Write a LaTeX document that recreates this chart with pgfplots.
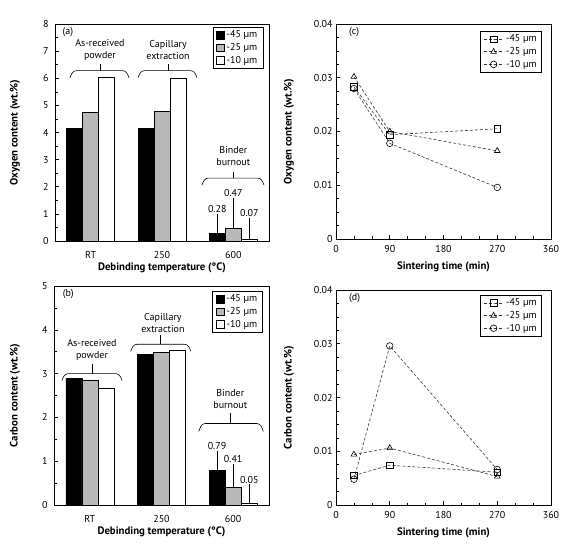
\documentclass[border=0pt]{standalone}
\usepackage{fontspec}
\setmainfont{PT Sans}[BoldFont={PT Sans Bold}]
\usepackage{pgfplots}
\pgfplotsset{compat=1.18}
\definecolor{bargray}{RGB}{185,185,185}
\definecolor{linegray}{RGB}{55,55,55}
\newcommand{\nf}{\fontsize{10}{11.5}\selectfont}
\newcommand{\lbf}{\fontsize{10.8}{12}\selectfont\bfseries}
\pgfplotsset{
  base/.style={scale only axis, anchor=south west, clip=false,
    axis line style={line width=0.7pt},
    tick style={black, line width=0.6pt},
    major tick length=4pt, minor tick length=2.5pt, tick align=inside,
    xtick pos=bottom, ytick pos=left,
    tick label style={font=\nf},
    /pgf/number format/assume math mode=true,
    legend cell align=left,
  },
  ylab/.style={every axis y label/.style={at={([xshift=#1]rel axis cs:0,0.5)}, rotate=90, anchor=center, font=\lbf}},
  xlab/.style={every axis x label/.style={at={([yshift=#1]rel axis cs:0.5,0)}, anchor=center, font=\lbf}},
  barax/.style={base, xmin=-0.5, xmax=2.5, xtick={0,1,2}, xticklabels={RT,250,600},
    major x tick style={draw=none}, minor y tick num=1,
    ybar=0pt, bar width=16pt,
    yticklabel style={xshift=-3pt}, xticklabel style={yshift=-3pt},
    legend image code/.code={\draw[##1] (0pt,-3.8pt) rectangle (7.6pt,3.8pt);},
    legend style={draw=black, line width=0.5pt, font=\nf, row sep=0pt, inner xsep=3.5pt, inner ysep=1.5pt},
    xlabel={Debinding temperature (°C)}, xlab=-27pt, ylab=-40pt},
  lineax/.style={base, xmin=0, xmax=360, xtick={0,90,180,270,360}, minor x tick num=2,
    ymin=0, ymax=0.04, ytick={0,0.01,0.02,0.03,0.04}, yticklabels={0,0.01,0.02,0.03,0.04},
    scaled y ticks=false, minor y tick num=3, xticklabel style={yshift=-3pt},
    legend image code/.code={\draw[mark repeat=2,mark phase=2,##1] plot coordinates {(0pt,0pt) (10pt,0pt) (20pt,0pt)};},
    legend style={draw=black, line width=0.5pt, font=\nf, row sep=0pt, inner xsep=3pt, inner ysep=1.5pt},
    xlabel={Sintering time (min)}, xlab=-28pt, ylab=-47pt},
  ln/.style={linegray, line width=0.6pt, dash pattern=on 3pt off 2pt, mark size=3.3pt, mark options={solid, fill=white, black, line width=0.6pt}},
}
\begin{document}
\begin{tikzpicture}[every node/.append style={font=\nf}]
\path[use as bounding box] (0,0) rectangle (580pt,552pt);

% (a)
\begin{axis}[barax, at={(55pt,311pt)}, width=214pt, height=217pt, ymin=0, ymax=8, ytick={0,...,8},
  ylabel={Oxygen content (wt.\%)},
  legend style={at={(rel axis cs:0.972,0.986)}, anchor=north east}]
\addplot[fill=black, draw=black, line width=0.6pt] coordinates {(0,4.15) (1,4.15) (2,0.28)};
\addplot[fill=bargray, draw=black, line width=0.6pt] coordinates {(0,4.74) (1,4.77) (2,0.47)};
\addplot[fill=white, draw=black, line width=0.6pt] coordinates {(0,6.05) (1,6.00) (2,0.07)};
\legend{-45 µm,-25 µm,-10 µm}
\node[anchor=north west, inner sep=0pt] at (rel axis cs:0.035,0.985) {(a)};
\draw[line width=0.6pt] (axis cs:-0.29,6.02) to[out=70,in=180] (axis cs:-0.2,6.28) -- (axis cs:0.447,6.28) to[out=0,in=110] (axis cs:0.537,6.02);
\draw[line width=0.6pt] (axis cs:0.13,6.28) -- (axis cs:0.13,6.53);
\node[align=center, font=\fontsize{10}{12}\selectfont] at (axis cs:0.13,7.04) {As-received\\powder};
\draw[line width=0.6pt] (axis cs:0.664,6.02) to[out=70,in=180] (axis cs:0.754,6.28) -- (axis cs:1.40,6.28) to[out=0,in=110] (axis cs:1.49,6.02);
\draw[line width=0.6pt] (axis cs:1.085,6.28) -- (axis cs:1.085,6.53);
\node[align=center, font=\fontsize{10}{12}\selectfont] at (axis cs:1.085,7.04) {Capillary\\extraction};
\draw[line width=0.6pt] (axis cs:1.56,2.06) to[out=70,in=180] (axis cs:1.65,2.32) -- (axis cs:2.34,2.32) to[out=0,in=110] (axis cs:2.43,2.06);
\draw[line width=0.6pt] (axis cs:2.0,2.32) -- (axis cs:2.0,2.54);
\node[align=center, font=\fontsize{10}{12}\selectfont] at (axis cs:2.0,3.15) {Binder\\burnout};
\draw[line width=0.5pt] (axis cs:1.775,0.28) -- (axis cs:1.775,1.0) node[above, inner sep=1pt] {0.28};
\draw[line width=0.5pt] (axis cs:2.0,0.47) -- (axis cs:2.0,1.6) node[above, inner sep=1pt] {0.47};
\draw[line width=0.5pt] (axis cs:2.225,0.07) -- (axis cs:2.225,0.86) node[above, inner sep=1pt] {0.07};
\end{axis}

% (b)
\begin{axis}[barax, at={(54pt,47pt)}, width=215pt, height=219pt, ymin=0, ymax=5, ytick={0,...,5},
  ylabel={Carbon content (wt.\%)}, ylab=-39pt,
  legend style={at={(rel axis cs:0.972,0.977)}, anchor=north east}]
\addplot[fill=black, draw=black, line width=0.6pt] coordinates {(0,2.895) (1,3.435) (2,0.79)};
\addplot[fill=bargray, draw=black, line width=0.6pt] coordinates {(0,2.85) (1,3.48) (2,0.41)};
\addplot[fill=white, draw=black, line width=0.6pt] coordinates {(0,2.675) (1,3.54) (2,0.05)};
\legend{-45 µm,-25 µm,-10 µm}
\node[anchor=north west, inner sep=0pt] at (rel axis cs:0.04,0.985) {(b)};
\draw[line width=0.6pt] (axis cs:-0.39,2.84) to[out=70,in=180] (axis cs:-0.30,3.0) -- (axis cs:0.36,3.0) to[out=0,in=110] (axis cs:0.45,2.84);
\draw[line width=0.6pt] (axis cs:0.03,3.0) -- (axis cs:0.03,3.23);
\node[align=center, font=\fontsize{10}{12}\selectfont] at (axis cs:0.03,3.55) {As-received\\powder};
\draw[line width=0.6pt] (axis cs:0.57,3.51) to[out=70,in=180] (axis cs:0.66,3.67) -- (axis cs:1.32,3.67) to[out=0,in=110] (axis cs:1.41,3.51);
\draw[line width=0.6pt] (axis cs:0.99,3.67) -- (axis cs:0.99,3.88);
\node[align=center, font=\fontsize{10}{12}\selectfont] at (axis cs:1.02,4.15) {Capillary\\extraction};
\draw[line width=0.6pt] (axis cs:1.52,1.68) to[out=70,in=180] (axis cs:1.61,1.86) -- (axis cs:2.33,1.86) to[out=0,in=110] (axis cs:2.42,1.68);
\draw[line width=0.6pt] (axis cs:1.96,1.86) -- (axis cs:1.96,2.09);
\node[align=center, font=\fontsize{10}{12}\selectfont] at (axis cs:1.96,2.41) {Binder\\burnout};
\draw[line width=0.5pt] (axis cs:1.775,0.79) -- (axis cs:1.775,1.23) node[above, inner sep=1pt] {0.79};
\draw[line width=0.5pt] (axis cs:2.0,0.41) -- (axis cs:2.0,0.93) node[above, inner sep=1pt] {0.41};
\draw[line width=0.5pt] (axis cs:2.225,0.05) -- (axis cs:2.225,0.47) node[above, inner sep=1pt] {0.05};
\end{axis}

% (c)
\begin{axis}[lineax, at={(336pt,313pt)}, width=215pt, height=215pt,
  ylabel={Oxygen content (wt.\%)},
  legend style={at={(rel axis cs:0.958,0.967)}, anchor=north east}]
\addplot[ln, mark=square] coordinates {(30,0.0283) (90,0.0194) (270,0.0205)};
\addplot[ln, mark=triangle] coordinates {(30,0.0302) (90,0.0200) (270,0.0164)};
\addplot[ln, mark=o] coordinates {(30,0.0280) (90,0.0178) (270,0.0096)};
\legend{-45 µm,-25 µm,-10 µm}
\node[anchor=north west, inner sep=0pt] at (rel axis cs:0.06,0.985) {(c)};
\end{axis}

% (d)
\begin{axis}[lineax, at={(336pt,47pt)}, width=215pt, height=215pt,
  ylabel={Carbon content (wt.\%)},
  legend style={at={(rel axis cs:0.958,0.977)}, anchor=north east}]
\addplot[ln, mark=square] coordinates {(30,0.0055) (90,0.0074) (270,0.0061)};
\addplot[ln, mark=triangle] coordinates {(30,0.0094) (90,0.0106) (270,0.0053)};
\addplot[ln, mark=o] coordinates {(30,0.0048) (90,0.0296) (270,0.0066)};
\legend{-45 µm,-25 µm,-10 µm}
\node[anchor=north west, inner sep=0pt] at (rel axis cs:0.06,0.985) {(d)};
\end{axis}
\end{tikzpicture}
\end{document}
